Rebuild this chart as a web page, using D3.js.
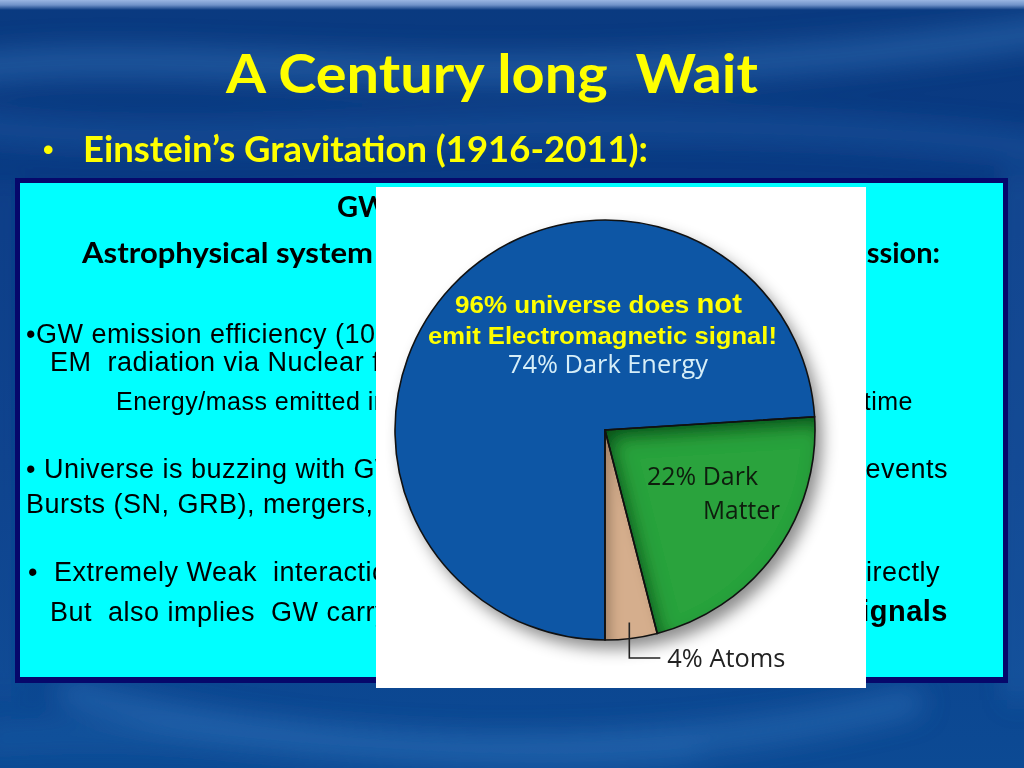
<!DOCTYPE html>
<html><head><meta charset="utf-8">
<script src="https://cdn.jsdelivr.net/npm/d3@7/dist/d3.min.js"></script>
<style>html,body{margin:0;padding:0;overflow:hidden;background:#0b3c84}</style>
</head><body><svg id="c" width="1024" height="768"></svg>
<script>
// ---- data ----
const categories = ["Dark Energy", "Dark Matter", "Atoms"];
const values = [74, 22, 4];
const sliceColors = ["#0d57a5", "#29a33d", "#d5ae8d"];
const titleText = "A Century long  Wait";
const subtitleText = "Einstein’s Gravitation (1916-2011):";
const calloutLines = ["96% universe does ", "not", "emit Electromagnetic signal!"];
const pieLabels = ["74% Dark Energy", "22% Dark", "Matter", "4% Atoms"];

(function(){
const svg = d3.select("#c");
const defs = svg.append("defs");

// background gradient
const bg = defs.append("linearGradient").attr("id","bg").attr("x1",0).attr("y1",0).attr("x2",0).attr("y2",1);
[[0,"#0a3a80"],[0.3,"#093a84"],[0.6,"#0b3f8a"],[1,"#0c4a94"]].forEach(s=>bg.append("stop").attr("offset",s[0]).attr("stop-color",s[1]));
const topG = defs.append("linearGradient").attr("id","topstrip").attr("x1",0).attr("y1",0).attr("x2",0).attr("y2",1);
[[0,"#9ab6e2"],[0.5,"#6f92c8"],[1,"#0a3a80"]].forEach(s=>topG.append("stop").attr("offset",s[0]).attr("stop-color",s[1]));

defs.append("filter").attr("id","blur").attr("x","-20%").attr("y","-50%").attr("width","140%").attr("height","200%")
  .append("feGaussianBlur").attr("stdDeviation",14);

const ds = defs.append("filter").attr("id","drop").attr("x","-20%").attr("y","-20%").attr("width","150%").attr("height","150%");
ds.append("feDropShadow").attr("dx",7).attr("dy",9).attr("stdDeviation",8).attr("flood-color","#000").attr("flood-opacity",0.45);

function innerShadow(id, col, op, sd, dx, dy){
  const f = defs.append("filter").attr("id",id).attr("x","-30%").attr("y","-30%").attr("width","160%").attr("height","160%");
  f.append("feComponentTransfer").attr("in","SourceAlpha").attr("result","inv")
   .append("feFuncA").attr("type","table").attr("tableValues","1 0");
  f.append("feGaussianBlur").attr("in","inv").attr("stdDeviation",sd).attr("result","b");
  f.append("feOffset").attr("in","b").attr("dx",dx).attr("dy",dy).attr("result","ob");
  f.append("feFlood").attr("flood-color",col).attr("flood-opacity",op).attr("result","fl");
  f.append("feComposite").attr("in","fl").attr("in2","ob").attr("operator","in").attr("result","sh");
  f.append("feComposite").attr("in","sh").attr("in2","SourceAlpha").attr("operator","in").attr("result","sh2");
  const m = f.append("feMerge");
  m.append("feMergeNode").attr("in","SourceGraphic");
  m.append("feMergeNode").attr("in","sh2");
}
innerShadow("innerG","#033a0e",0.9,9,7,9);
innerShadow("innerT","#3a2410",0.5,6,6,8);

// ---- background ----
svg.append("rect").attr("width",1024).attr("height",768).attr("fill","url(#bg)");
const waves = svg.append("g").attr("filter","url(#blur)").attr("fill","none");
waves.append("path").attr("d","M-40,70 C200,40 500,110 1060,30").attr("stroke","#3f86cc").attr("stroke-width",26).attr("opacity",0.45);
waves.append("path").attr("d","M-40,125 C250,160 600,95 1060,150").attr("stroke","#2e73bb").attr("stroke-width",20).attr("opacity",0.4);
waves.append("path").attr("d","M60,690 C300,760 650,770 920,700").attr("stroke","#3f86cc").attr("stroke-width",22).attr("opacity",0.45);
waves.append("path").attr("d","M-20,740 C200,720 450,770 700,750").attr("stroke","#2e73bb").attr("stroke-width",20).attr("opacity",0.35);
waves.append("path").attr("d","M1018,170 L1018,700").attr("stroke","#3a7fc6").attr("stroke-width",14).attr("opacity",0.5);
waves.append("path").attr("d","M4,180 L4,700").attr("stroke","#2b6db4").attr("stroke-width",10).attr("opacity",0.4);
svg.append("rect").attr("width",1024).attr("height",10).attr("fill","url(#topstrip)");

// ---- titles ----
svg.append("text").attr("x",226).attr("y",93).text(titleText)
  .style("white-space","pre").attr("font-family","Lato, 'Open Sans', sans-serif").attr("font-weight","bold")
  .attr("font-size",53).attr("fill","#ffff00").attr("textLength",532).attr("lengthAdjust","spacingAndGlyphs");
svg.append("text").attr("x",43).attr("y",160).text("•")
  .attr("font-family","'Liberation Sans', Arial, sans-serif").attr("font-weight","bold").attr("font-size",30).attr("fill","#ffff00");
svg.append("text").attr("x",83).attr("y",162).text(subtitleText)
  .attr("font-family","Lato, 'Open Sans', sans-serif").attr("font-weight","bold")
  .attr("font-size",36).attr("fill","#ffff00").attr("textLength",565).attr("lengthAdjust","spacingAndGlyphs");

// ---- cyan box ----
svg.append("rect").attr("x",15).attr("y",178).attr("width",993).attr("height",505).attr("fill","#06086b");
svg.append("rect").attr("x",20).attr("y",183).attr("width",983).attr("height",494).attr("fill","#00ffff");

const box = svg.append("g").attr("fill","#000");
function bold(x,y,t,anchor,len){
  const e = box.append("text").attr("x",x).attr("y",y).text(t).style("white-space","pre")
    .attr("font-family","Lato, sans-serif").attr("font-weight","bold").attr("font-size",29)
    .attr("text-anchor",anchor||"start");
  if(len) e.attr("textLength",len).attr("lengthAdjust","spacingAndGlyphs");
}
bold(337,217,"GW");
bold(82,263,"Astrophysical system",null,291);
bold(940,263,"emission:","end");

function body(x,y,t,size,anchor,weight){
  box.append("text").attr("x",x).attr("y",y).text(t).style("white-space","pre")
    .attr("font-family","'Liberation Sans', Arial, sans-serif").attr("font-size",size)
    .attr("letter-spacing",0.5).attr("font-weight",weight||"normal")
    .attr("text-anchor",anchor||"start");
}
body(26,343,"•GW emission efficiency (10",27);
body(50,371,"EM  radiation via Nuclear f",27);
body(116,410,"Energy/mass emitted in",25);
body(913,410,"time",25,"end");
body(26,478,"• Universe is buzzing with GW",27);
body(948,478,"events",27,"end");
body(26,513,"Bursts (SN, GRB), mergers, ",27);
body(28,581,"•  Extremely Weak  interaction",27);
body(940,581,"directly",27,"end");
body(50,621,"But  also implies  GW carry",27);
body(948,621,"signals",29,"end","bold");

// ---- white panel with pie ----
svg.append("rect").attr("x",376).attr("y",187).attr("width",490).attr("height",501).attr("fill","#ffffff");

const cx = 605, cy = 430, R = 210;
const pie = d3.pie().sort(null).startAngle(Math.PI).endAngle(3*Math.PI);
const arcs = pie(values);
const arc = d3.arc().innerRadius(0).outerRadius(R);
const color = d3.scaleOrdinal().domain(categories).range(sliceColors);

const pg = svg.append("g").attr("transform",`translate(${cx},${cy})`);
const shadowG = pg.append("g").attr("filter","url(#drop)");
shadowG.selectAll("path").data(arcs).join("path")
  .attr("d",arc).attr("fill",(d,i)=>color(categories[i]))
  .attr("filter",(d,i)=> i===1 ? "url(#innerG)" : (i===2 ? "url(#innerT)" : null));
pg.selectAll("path.edge").data(arcs).join("path").attr("class","edge")
  .attr("d",arc).attr("fill","none").attr("stroke","#111").attr("stroke-width",1.6).attr("stroke-linejoin","miter");

// labels
const myriad = "'Open Sans', 'Noto Sans', sans-serif";
pg.append("text").attr("x",3).attr("y",-57).attr("text-anchor","middle").text(pieLabels[0])
  .attr("font-family",myriad).attr("font-size",25).attr("fill","#d6eef8").attr("textLength",200).attr("lengthAdjust","spacingAndGlyphs");
pg.append("text").attr("x",42).attr("y",55).text(pieLabels[1])
  .attr("font-family",myriad).attr("font-size",26).attr("fill","#0e1d0d").attr("textLength",111).attr("lengthAdjust","spacingAndGlyphs");
pg.append("text").attr("x",98).attr("y",89).text(pieLabels[2])
  .attr("font-family",myriad).attr("font-size",26).attr("fill","#0e1d0d").attr("textLength",77).attr("lengthAdjust","spacingAndGlyphs");

// leader for atoms slice
const lead = d3.arc().innerRadius(194).outerRadius(194).centroid(arcs[2]);
const elbowY = 228;
pg.append("path").attr("d",d3.line()([[lead[0],lead[1]],[lead[0],elbowY],[lead[0]+31,elbowY]]))
  .attr("fill","none").attr("stroke","#222").attr("stroke-width",1.6);
pg.append("text").attr("x",lead[0]+38).attr("y",elbowY+9).text(pieLabels[3])
  .attr("font-family",myriad).attr("font-size",25).attr("fill","#222").attr("textLength",118).attr("lengthAdjust","spacingAndGlyphs");

// yellow callout
const call = svg.append("g").attr("font-family","'Liberation Sans', Arial, sans-serif").attr("font-weight","bold").attr("fill","#ffff00");
const t1 = call.append("text").attr("x",455).attr("y",313).attr("textLength",287).attr("lengthAdjust","spacingAndGlyphs");
t1.append("tspan").attr("font-size",24).text(calloutLines[0]).style("white-space","pre");
t1.append("tspan").attr("font-size",27).text(calloutLines[1]);
call.append("text").attr("x",428).attr("y",344).attr("font-size",23)
  .text(calloutLines[2]).attr("textLength",349).attr("lengthAdjust","spacingAndGlyphs");
})();
</script></body></html>
